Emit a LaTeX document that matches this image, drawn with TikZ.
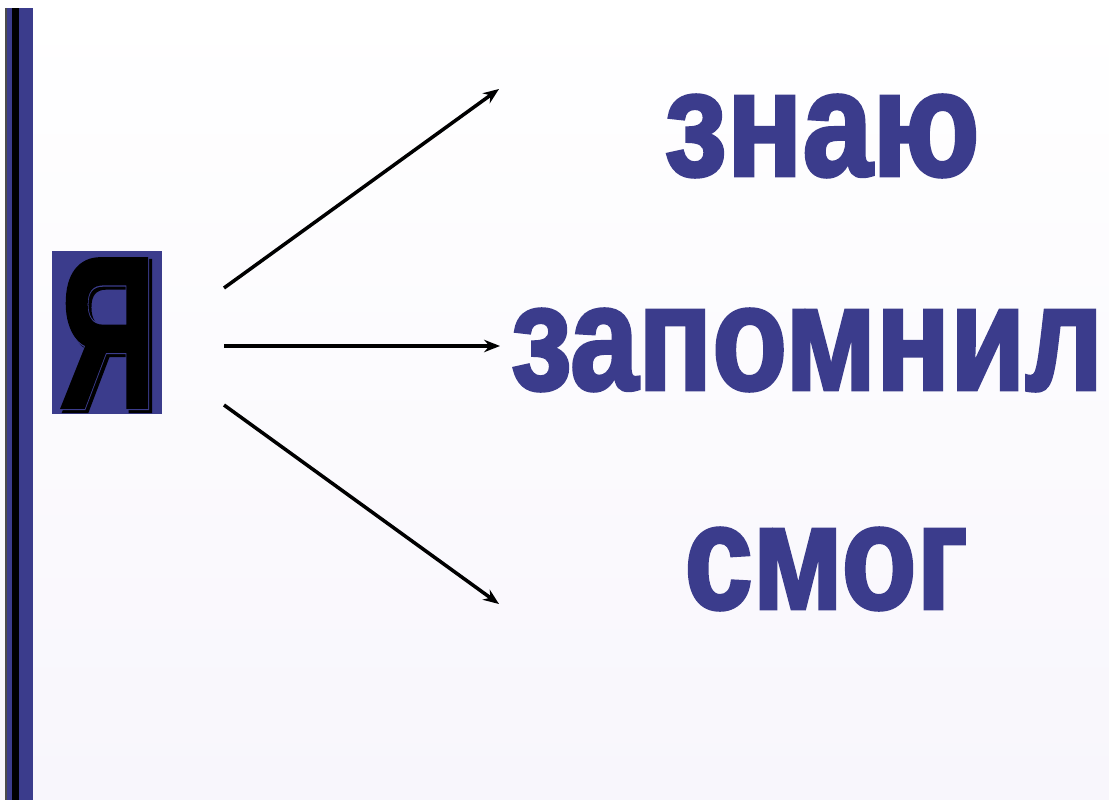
\documentclass[tikz,border=0pt]{standalone}
\usepackage{fontspec}
\setmainfont{Liberation Sans}
\newfontfamily\heavyfont[FakeBold=2.5]{Liberation Sans Bold}
\newfontfamily\yafont[FakeBold=2]{Liberation Sans Bold}
\newfontfamily\yarimfont[FakeBold=3.2]{Liberation Sans Bold}
\usetikzlibrary{arrows.meta}
\definecolor{navy}{HTML}{3B3C8C}
\definecolor{paper}{HTML}{F8F6FC}

\begin{document}
\begin{tikzpicture}[x=0.02cm, y=-0.02cm,
  word/.style={navy, inner sep=0pt, font=\heavyfont\fontsize{85}{85}\selectfont},
  letter/.style={inner sep=0pt, xscale=0.62},
  ptr/.style={line width=2pt, -{Stealth[length=9pt, width=7pt]}}]
  \useasboundingbox (0,0) rectangle (1109,800);
  % фон
  \shade[top color=white, bottom color=paper] (0,0) rectangle (1109,800);
  % полоса слева
  \fill[navy] (6,8) rectangle (33,800);
  \fill[black] (12,8) rectangle (19,800);
  \draw[black!70, line width=0.6pt] (6,8) -- (6,800);
  % буква Я: тень, кант, буква
  \fill[navy] (52,251) rectangle (162,414);
  \node[letter, black, font=\yarimfont\fontsize{122}{122}\selectfont] at (111,336) {Я};
  \node[letter, navy, font=\yarimfont\fontsize{122}{122}\selectfont] at (108,333) {Я};
  \node (ya) [letter, black, font=\yafont\fontsize{122}{122}\selectfont] at (108,333) {Я};
  % слова
  \node (znayu) [word, xscale=0.84] at (822,136) {знаю};
  \node (zapomnil) [word, xscale=0.82] at (807,350) {запомнил};
  \node (smog) [word, xscale=0.82] at (826,569) {смог};
  % стрелки
  \coordinate (s1) at (224,288);
  \coordinate (s2) at (224,346);
  \coordinate (s3) at (224,405);
  \coordinate (e1) at (499,89);
  \coordinate (e2) at (500,346);
  \coordinate (e3) at (499,604);
  \draw[ptr] (s1) -- (e1);
  \draw[ptr] (s2) -- (e2);
  \draw[ptr] (s3) -- (e3);
\end{tikzpicture}
\end{document}
